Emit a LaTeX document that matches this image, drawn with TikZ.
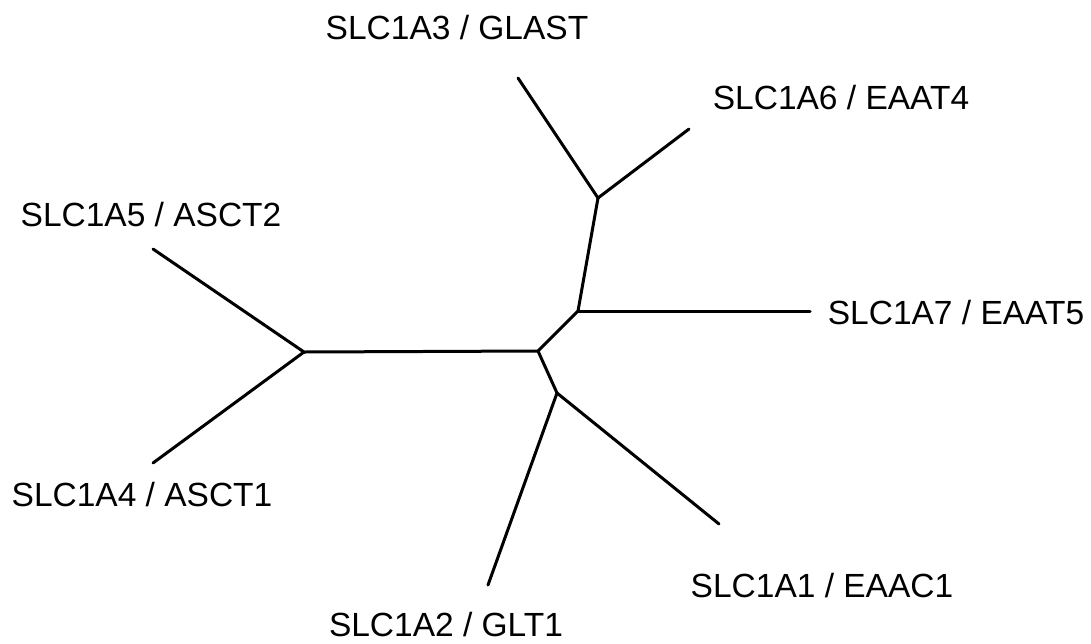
\documentclass[tikz,border=0pt]{standalone}
\usepackage{fontspec}
\setmainfont{Liberation Sans}
\usetikzlibrary{positioning}
\tikzset{every node/.style={font=\fontsize{33.5}{40}\selectfont, inner sep=0pt},
  branch/.style={line width=3pt, line cap=round, line join=round}}

\begin{document}
\begin{tikzpicture}[x=1pt, y=-1pt]
  \useasboundingbox (0,0) rectangle (1091,643);
  % inner nodes of the tree
  \coordinate (asc) at (304,352);
  \coordinate (mid) at (538,351);
  \coordinate (up) at (578,311);
  \coordinate (top) at (598,198);
  \coordinate (low) at (557,393);
  % leaf ends
  \coordinate (asct2) at (153,249);
  \coordinate (asct1) at (153,463);
  \coordinate (glast) at (518,78);
  \coordinate (eaat4) at (689,129);
  \coordinate (eaat5) at (810,311);
  \coordinate (eaac1) at (719,524);
  \coordinate (glt1) at (488,585);
  % labels
  \node (lglast) at (457,28) {SLC1A3 / GLAST};
  \node (leaat4) at (841,98) {SLC1A6 / EAAT4};
  \node (lasct2) at (151,215) {SLC1A5 / ASCT2};
  \node (leaat5) at (956,313) {SLC1A7 / EAAT5};
  \node (lasct1) at (142,495) {SLC1A4 / ASCT1};
  \node (leaac1) at (822,586) {SLC1A1 / EAAC1};
  \node (lglt1) at (446,625) {SLC1A2 / GLT1};
  \begin{scope}[branch]
    \draw (asct2) -- (asc) -- (asct1);
    \draw (asc) -- (mid) -- (up) -- (top);
    \draw (glast) -- (top) -- (eaat4);
    \draw (up) -- (eaat5);
    \draw (mid) -- (low) -- (glt1);
    \draw (low) -- (eaac1);
  \end{scope}
\end{tikzpicture}
\end{document}
